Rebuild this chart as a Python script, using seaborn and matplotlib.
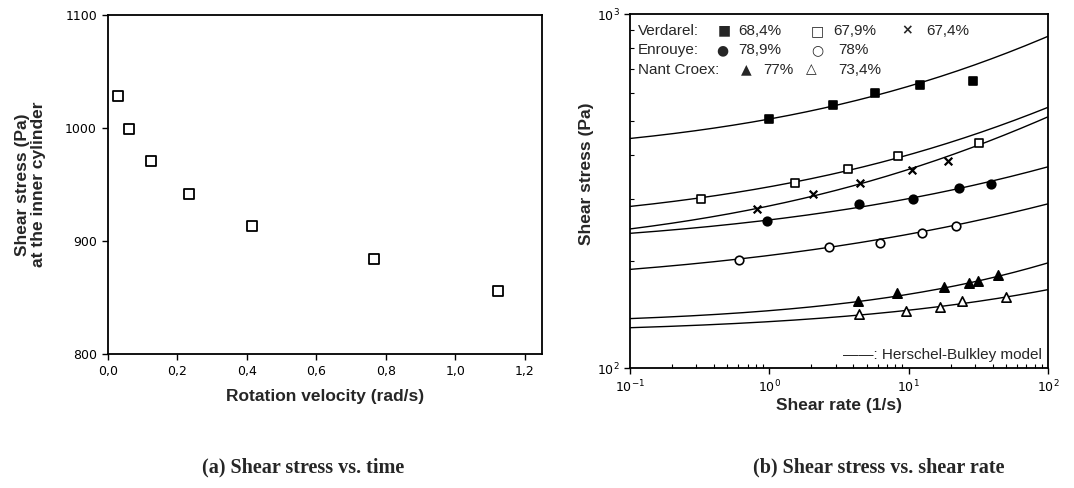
import numpy as np
import pandas as pd
import matplotlib
matplotlib.use("Agg")
import matplotlib.pyplot as plt
from matplotlib.ticker import NullFormatter
import seaborn as sns

# ---------------- Panel (a): shear stress at inner cylinder ----------------
rot_velocity = [0.03, 0.06, 0.123, 0.234, 0.415, 0.765, 1.123]
inner_stress = [1028, 999, 971, 942, 913, 884, 856]

# ---------------- Panel (b): shear stress vs shear rate ----------------
verdarel_684_rate = [0.99, 2.87, 5.71, 12.0, 29.0]
verdarel_684_stress = [505, 553, 597, 632, 648]
verdarel_679_rate = [0.323, 1.52, 3.68, 8.4, 32.0]
verdarel_679_stress = [301, 334, 364, 397, 433]
verdarel_674_rate = [0.82, 2.07, 4.47, 10.5, 19.2]
verdarel_674_stress = [281, 311, 334, 362, 385]
enrouye_789_rate = [0.955, 4.39, 10.8, 22.9, 39.3]
enrouye_789_stress = [261, 290, 300, 323, 330]
enrouye_78_rate = [0.608, 2.69, 6.21, 12.4, 21.8]
enrouye_78_stress = [202, 220, 226, 240, 252]
nant_77_rate = [4.34, 8.26, 17.9, 27.2, 31.7, 44.0]
nant_77_stress = [155, 163, 169, 174, 176, 183]
nant_734_rate = [4.41, 9.5, 16.9, 24.3, 49.8]
nant_734_stress = [142, 145, 149, 155, 159]

# Herschel-Bulkley model parameters (tau0, K, n) for each series
hb_tau0 = [385, 244, 204, 212, 164, 132, 124.7]
hb_K = [120, 81, 83, 50, 44, 13.2, 10.5]
hb_n = [0.301, 0.285, 0.285, 0.25, 0.23, 0.35, 0.30]

series = [
    (verdarel_684_rate, verdarel_684_stress, "s", True),
    (verdarel_679_rate, verdarel_679_stress, "s", False),
    (verdarel_674_rate, verdarel_674_stress, "x", True),
    (enrouye_789_rate, enrouye_789_stress, "o", True),
    (enrouye_78_rate, enrouye_78_stress, "o", False),
    (nant_77_rate, nant_77_stress, "^", True),
    (nant_734_rate, nant_734_stress, "^", False),
]

legend_rows = [
    ("Verdarel:", [("\u25A0", "68,4%"), ("\u25A1", "67,9%"), ("\u00D7", "67,4%")]),
    ("Enrouye:", [("\u25CF", "78,9%"), ("\u25CB", "78%")]),
    ("Nant Croex:", [("\u25B2", "77%"), ("\u25B3", "73,4%")]),
]

sns.set_theme(style="white")
plt.rcParams["font.family"] = ["Liberation Sans", "DejaVu Sans"]
plt.rcParams["axes.edgecolor"] = "black"
plt.rcParams["axes.linewidth"] = 1.3
plt.rcParams["xtick.color"] = "black"
plt.rcParams["ytick.color"] = "black"

fig = plt.figure(figsize=(10.74, 4.88), dpi=100)
axL = fig.add_axes([0.1006, 0.2746, 0.4041, 0.6947])
axR = fig.add_axes([0.5866, 0.2459, 0.3892, 0.7254])

tick_font = {"family": "DejaVu Sans", "size": 9}

# ---- left panel ----
dfL = pd.DataFrame({"v": rot_velocity, "tau": inner_stress})
sns.scatterplot(data=dfL, x="v", y="tau", marker="s", s=55, facecolor="white",
                edgecolor="black", linewidth=1.3, ax=axL, zorder=3)
axL.set_xlim(0, 1.25)
axL.set_ylim(800, 1100)
xt = [0, 0.2, 0.4, 0.6, 0.8, 1.0, 1.2]
axL.set_xticks(xt)
axL.set_xticklabels([f"{v:.1f}".replace(".", ",") for v in xt], fontdict=tick_font)
yt = [800, 900, 1000, 1100]
axL.set_yticks(yt)
axL.set_yticklabels([str(v) for v in yt], fontdict=tick_font)
axL.tick_params(direction="out", length=4, width=1, pad=4, bottom=True, left=True)
axL.set_xlabel("Rotation velocity (rad/s)", fontsize=12.5, fontweight="bold", labelpad=8)
axL.set_ylabel("Shear stress (Pa)\nat the inner cylinder", fontsize=12.5,
               fontweight="bold", labelpad=14, linespacing=1.05)

# ---- right panel ----
axR.set_xscale("log")
axR.set_yscale("log")
grid = np.geomspace(0.1, 100, 200)
for (rate, stress, mk, filled), t0, K, n in zip(series, hb_tau0, hb_K, hb_n):
    model = t0 + K * grid ** n
    sns.lineplot(x=grid, y=model, color="black", linewidth=1.0, ax=axR, zorder=2)
    if mk == "x":
        sns.scatterplot(x=rate, y=stress, marker="x", s=30, color="black",
                        linewidth=1.6, ax=axR, zorder=3)
    else:
        sns.scatterplot(x=rate, y=stress, marker=mk, s=38 if mk != "^" else 45,
                        facecolor="black" if filled else "white",
                        edgecolor="black", linewidth=1.2, ax=axR, zorder=3)
axR.set_xlim(0.1, 100)
axR.set_ylim(100, 1000)
axR.xaxis.set_minor_formatter(NullFormatter())
axR.yaxis.set_minor_formatter(NullFormatter())
axR.tick_params(which="major", direction="out", length=4, width=1, bottom=True, left=True,
                labelsize=9)
axR.tick_params(which="minor", direction="in", length=3, width=0.8, bottom=True, left=True)
for lab in axR.get_xticklabels() + axR.get_yticklabels():
    lab.set_family("DejaVu Sans")
axR.set_xlabel("Shear rate (1/s)", fontsize=12.5, fontweight="bold", labelpad=2)
axR.set_ylabel("Shear stress (Pa)", fontsize=12.5, fontweight="bold", labelpad=8)
axR.yaxis.set_label_coords(-0.085, 0.55)

# legend block (text rows)
row_y = [0.957, 0.902, 0.847]
name_x = 0.019
sym_x = [[0.225, 0.447, 0.664], [0.220, 0.449], [0.279, 0.433]]
val_x = [[0.258, 0.486, 0.708], [0.258, 0.498], [0.318, 0.498]]
for (name, items), yy, sx, vx in zip(legend_rows, row_y, sym_x, val_x):
    axR.text(name_x, yy, name, transform=axR.transAxes, fontsize=11,
             va="center_baseline", ha="left")
    for (sym, val), a, b in zip(items, sx, vx):
        axR.text(a, yy, sym, transform=axR.transAxes, fontsize=10, va="center_baseline",
                 ha="center", family="DejaVu Sans", fontweight="bold")
        axR.text(b, yy, val, transform=axR.transAxes, fontsize=11,
                 va="center_baseline", ha="left")

axR.text(0.985, 0.04, "\u2014\u2014: Herschel-Bulkley model", transform=axR.transAxes,
         fontsize=11, va="center_baseline", ha="right")

# captions
cap_font = dict(family=["Liberation Serif", "DejaVu Serif"], fontsize=14.5, fontweight="bold",
                ha="center", va="center")
fig.text(0.282, 0.043, "(a) Shear stress vs. time", **cap_font)
fig.text(0.818, 0.043, "(b) Shear stress vs. shear rate", **cap_font)

fig.savefig("out.png", dpi=100)
